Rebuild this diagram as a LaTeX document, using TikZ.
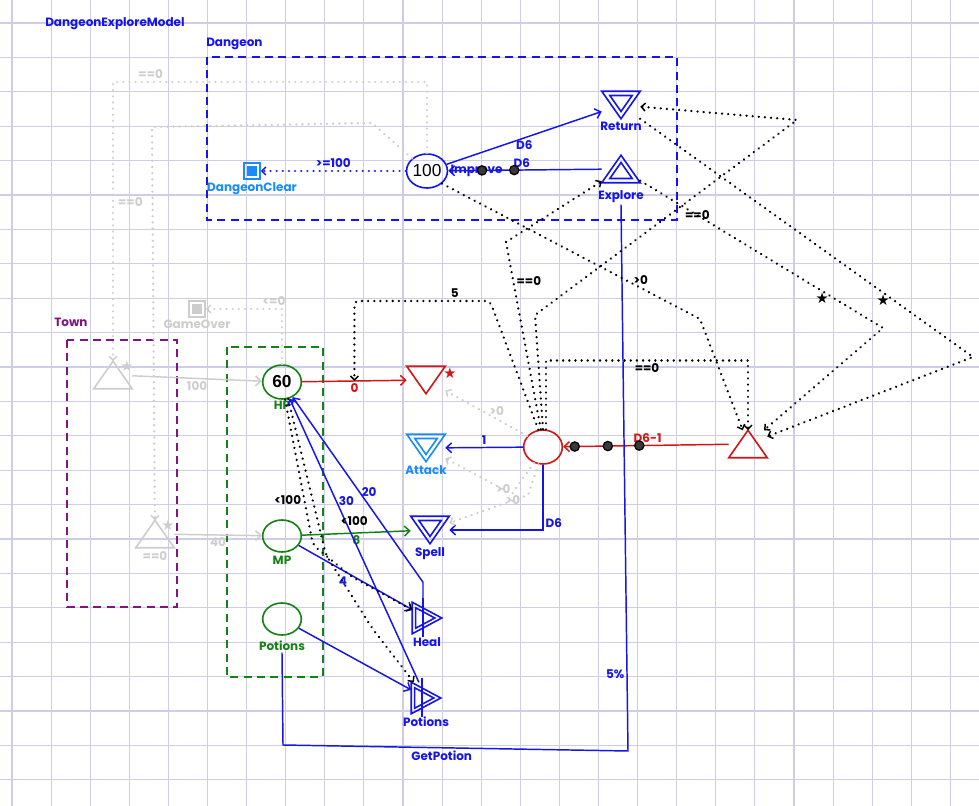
\documentclass[tikz,border=0pt]{standalone}
\usepackage{fontspec}
\setmainfont{Poppins}
\newfontfamily\numfont{Liberation Sans}
\newfontfamily\symfont{DejaVu Sans}
\usetikzlibrary{arrows.meta,positioning,calc,shapes.geometric}
\definecolor{mblue}{RGB}{20,20,235}
\definecolor{mlight}{RGB}{25,140,250}
\definecolor{mgreen}{RGB}{20,130,20}
\definecolor{mred}{RGB}{215,20,20}
\definecolor{mpurple}{RGB}{130,20,130}
\definecolor{mgray}{RGB}{205,205,205}
\definecolor{mgrid}{RGB}{205,205,232}

% drain: box node + downward outline (#4 = factor of inner outline, empty for none)
\newcommand\drain[6]{%
  \node[tribox, label={[lbl,#3,label distance=#6,name=#1L]below:#5}] (#1) at (#2) {};
  \draw[#3, tri] (#1.north west) -- (#1.north east) -- (#1.south) -- cycle;
  \ifx\relax#4\relax\else
    \coordinate (#1-in) at ($(#1.center)+(0,-3.6)$);
    \draw[#3, tri] ($(#1-in)!#4!(#1.north west)$) -- ($(#1-in)!#4!(#1.north east)$)
      -- ($(#1-in)!#4!(#1.south)$) -- cycle;
  \fi}
% source: box node + upward outline
\newcommand\source[6]{%
  \node[tribox, label={[lbl,#3,label distance=#6,name=#1L]below:#5}] (#1) at (#2) {};
  \draw[#3, tri] (#1.south west) -- (#1.south east) -- (#1.north) -- cycle;
  \ifx\relax#4\relax\else
    \coordinate (#1-in) at ($(#1.center)+(0,3.6)$);
    \draw[#3, tri] ($(#1-in)!#4!(#1.south west)$) -- ($(#1-in)!#4!(#1.south east)$)
      -- ($(#1-in)!#4!(#1.north)$) -- cycle;
  \fi}
% converter: double right triangle with a bar
\newcommand\conv[4]{%
  \node[cvbox, label={[lbl,#3,label distance=1pt,name=#1L]below:#4}] (#1) at (#2) {};
  \draw[#3, tri] (#1.north west) -- (#1.east) -- (#1.south west) -- cycle;
  \coordinate (#1-in) at ($(#1.center)+(-5.2,0)$);
  \draw[#3, tri] ($(#1-in)!.65!(#1.north west)$) -- ($(#1-in)!.65!(#1.east)$)
    -- ($(#1-in)!.65!(#1.south west)$) -- cycle;
  \draw[#3, tri] ($(#1.north)+(-4,-4)$) -- ($(#1.south)+(-4,3)$);}

\begin{document}
\begin{tikzpicture}[x=0.75pt, y=-0.75pt,
  lbl/.style={font=\bfseries\fontsize{9}{10}\selectfont, inner sep=1.5pt},
  grid/.style={mgrid, line width=0.8pt},
  tribox/.style={inner sep=0, minimum width=28.5pt, minimum height=20.25pt},
  cvbox/.style={inner sep=0, minimum width=21.75pt, minimum height=23.25pt},
  tri/.style={line width=1.2pt},
  pool/.style={ellipse, draw, line width=1.2pt, inner sep=0, minimum width=29pt,
    minimum height=25.5pt, font=\numfont\fontsize{13}{13}\selectfont},
  endc/.style={rectangle, draw, line width=1.3pt, inner sep=0, minimum size=12pt},
  grp/.style={line width=1.2pt, dash pattern=on 6pt off 4pt},
  flow/.style={line width=1.1pt, -{Straight Barb[length=4pt,width=7.5pt]}},
  state/.style={line width=1.9pt, line cap=round, dash pattern=on 0.01pt off 4.6pt,
    -{Straight Barb[length=3pt,width=6pt,line width=1.1pt]}},
  ghost/.style={state, mgray},
  dot/.style={circle, draw=black, fill=gray!45!black, line width=0.9pt, inner sep=0,
    minimum size=7pt},
  tag/.style={font=\symfont\fontsize{11}{11}\selectfont, inner sep=0.5pt}
]
\useasboundingbox (0,0) rectangle (979,806);
\fill[white] (0,0) rectangle (979,806);
\foreach \k in {0,...,24}
  \draw[grid] ({12+39.1*\k},0) -- ({12+39.1*\k},806);
\foreach \k in {0,...,22}
  \draw[grid] (0,{23+34.4*\k}) -- (979,{23+34.4*\k});

% groups
\node[lbl, mblue, anchor=west] (title) at (43,24) {DangeonExploreModel};
\node[lbl, mblue, anchor=west] (dglbl) at (204,44) {Dangeon};
\node[lbl, mpurple, anchor=west] (townlbl) at (52,322) {Town};
\draw[grp, mblue] (207,57) rectangle (677,220);
\draw[grp, mpurple] (67,340) rectangle (177,607);
\draw[grp, mgreen] (227,347) rectangle (323,677);

% pools and end conditions
\node[pool, draw=mblue, label={[lbl,mblue,label distance=0pt]right:Improve}] (improve) at (427,171) {100};
\node[pool, draw=mgreen, label={[lbl,mgreen,label distance=-1pt]below:HP}] (hp) at (282,382) {\bfseries 60};
\node[pool, draw=mgreen, minimum height=24pt, label={[lbl,mgreen,label distance=1pt]below:MP}] (mp) at (282,536) {};
\node[pool, draw=mgreen, minimum height=24pt, label={[lbl,mgreen,label distance=2pt,name=potL]below:Potions}] (potpool) at (282,619) {};
\node[pool, draw=mred] (rpool) at (543,447) {};
\node[endc, draw=mlight, label={[lbl,mlight,label distance=0pt]below:DangeonClear}] (clear) at (252,171) {};
\fill[mlight] ($(clear.south west)+(3.5,-3.5)$) rectangle ($(clear.north east)+(-3.5,3.5)$);
\node[endc, draw=mgray, label={[lbl,mgray,label distance=0pt]below:GameOver}] (over) at (197,309) {};
\fill[mgray] ($(over.south west)+(3.5,-3.5)$) rectangle ($(over.north east)+(-3.5,3.5)$);

% sources, drains, converters
\drain{ret}{621,105}{mblue}{.58}{Return}{1pt}
\source{expl}{621,169}{mblue}{.58}{Explore}{4pt}
\drain{rdrain}{426,380}{mred}{}{}{0pt}
\drain{attack}{426,448}{mlight}{.58}{Attack}{1pt}
\drain{spell}{430,530}{mblue}{.58}{Spell}{1pt}
\source{rsrc}{748,444}{mred}{}{}{0pt}
\source{town1}{113,375}{mgray}{}{}{0pt}
\source{town2}{155,534}{mgray}{}{==0}{1pt}
\conv{heal}{427,618}{mblue}{Heal}
\conv{potconv}{426,698}{mblue}{Potions}
\node[tag, mred] (rstar) at (450,373) {★};
\node[tag, mgray] (t1star) at (127,366) {★};
\node[tag, mgray] (t2star) at (168,525) {★};

% dungeon
\draw[flow, mblue] (improve) -- node[lbl, pos=.5, below] {D6} (ret);
\draw[flow, mblue] (expl) -- node[lbl, pos=.52, above] {D6}
  node[dot, pos=.57] (ed1) {} node[dot, pos=.78] (ed2) {} (improve);
\draw[state, mblue] (improve) -- node[lbl, above] {>=100} (clear);
\draw[ghost] (improve.north) -- (427,82) -| node[lbl, mgray, pos=.44, above] {==0} (town1);
\draw[ghost] (improve.north west) -- (372,123) -- (152,127)
  -- node[lbl, mgray, pos=.19, left=5pt] {==0} (town2);

% town
\draw[flow, mgray] (town1) -- node[lbl, mgray, below] {100} (hp);
\draw[flow, mgray] (town2) -- node[lbl, mgray, below] {40} (mp);
\draw[ghost] (hp) |- node[lbl, mgray, pos=.5, above, xshift=-6pt] {<=0} (over);

% combat
\draw[flow, mred] (hp) -- node[lbl, mred, below] {0} coordinate[pos=.5] (hpflow) (rdrain);
\draw[flow, mred] (rsrc) -- node[lbl, mred, pos=.49, above] {D6-1}
  node[dot, pos=.54] (rd1) {} node[dot, pos=.73] (rd2) {} node[dot, pos=.93] (rd3) {} (rpool);
\draw[flow, mblue] (rpool) -- node[lbl, pos=.5, above] {1} (attack);
\draw[flow, mblue] (rpool) |- node[lbl, pos=.45, right] {D6} (spell);
\draw[flow, mgreen] (mp) -- node[lbl, mgreen, pos=.5, below] {8} (spell);
\draw[flow, mblue] (mp) -- node[lbl, mblue, pos=.45, below left] {4} (heal);
\draw[flow, mblue] (potpool) -- (potconv);
\draw[flow, mblue] (potconv) -- node[lbl, mblue, pos=.64, right] {30} (hp);
\draw[flow, mblue] ($(heal.north)+(-4,0)$) -- ++(0,-20) -- node[lbl, mblue, pos=.49, right] {20} (hp);
\draw[line width=1.1pt, mblue] (explL.south) -- node[lbl, pos=.86, left] {5\%} (628,751)
  -- node[lbl, pos=.54, below] {GetPotion} (283,745) -- (potL.south);

% state connections
\draw[state, rounded corners=4pt] (hp.-80) -- node[lbl, pos=.69, left] {<100} (313,545)
  -- (352,577) -- (heal);
\draw[state, rounded corners=4pt] (hp.-70) -- node[lbl, pos=.78, right=15pt] {<100} (326,555)
  -- (372,628) -- (potconv);
\draw[state, rounded corners=3pt] (rpool.105) -- (490,301) -| node[lbl, pos=.13, above] {5} (hpflow);
\draw[state] (rpool.97) -- node[lbl, pos=.79, right] {==0} (506,242) -- (expl);
\draw[state] (rpool.90) -- (535,315) -- (797,120) -- (ret);
\draw[state] (rpool.80) -- ++(0,-69) -| node[lbl, pos=.25, below] {==0} (rsrc);
\draw[state] (improve.-40) -- node[lbl, pos=.77, above] {>0} (700,319) -- (rsrc);
\draw[state] (expl) -- node[lbl, pos=.235] {==0} node[tag, pos=.75, below] {★} (883,328) -- (rsrc);
\draw[state] (ret) -- node[tag, pos=.73, below] {★} (973,357) -- (rsrc);
\draw[ghost] (rpool.145) -- node[lbl, mgray, pos=.37, above] {>0} (rdrain);
\draw[ghost] (rpool.240) -- (512,494) -- node[lbl, mgray, pos=.13] {>0} (attack);
\draw[ghost] (rpool.255) -- (528,495) -- node[lbl, mgray, pos=.19] {>0} (spell);
\end{tikzpicture}
\end{document}
